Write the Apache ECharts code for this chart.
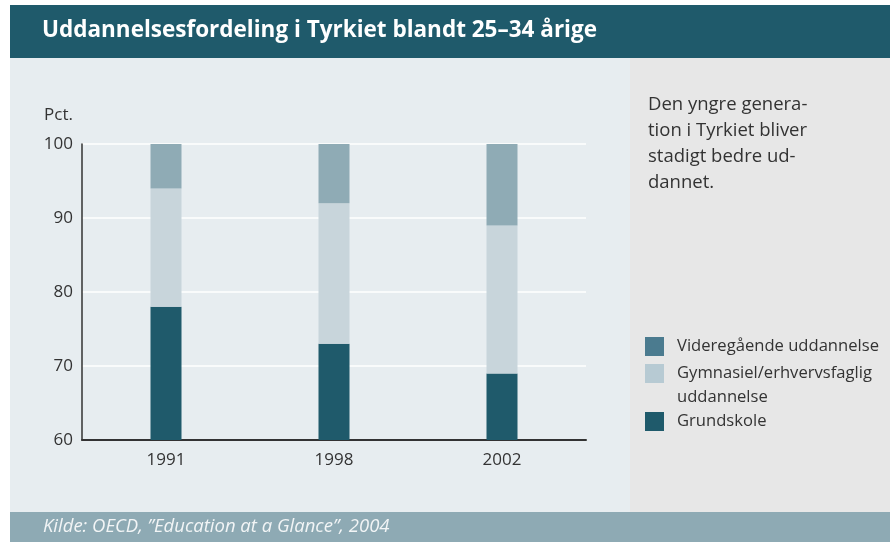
<!DOCTYPE html>
<html>
<head>
<meta charset="utf-8">
<script src="https://cdn.jsdelivr.net/npm/echarts@6/dist/echarts.min.js"></script>
<style>
html,body{margin:0;padding:0;background:#ffffff;}
#chart{width:890px;height:542px;}
</style>
</head>
<body>
<div id="chart"></div>
<script>
var categories = ['1991', '1998', '2002'];
var seriesNames = ['Grundskole', 'Gymnasiel/erhvervsfaglig uddannelse', 'Videregående uddannelse'];
var grundskole = [78, 73, 69];
var gymnasiel = [16, 19, 20];
var videregaaende = [6, 8, 11];
var yTicks = [60, 70, 80, 90, 100];
var titleText = 'Uddannelsesfordeling i Tyrkiet blandt 25–34 årige';
var noteLines = ['Den yngre genera-', 'tion i Tyrkiet bliver', 'stadigt bedre ud-', 'dannet.'];
var sourceText = 'Kilde: OECD, ”Education at a Glance”, 2004';
var legendLabels = ['Videregående uddannelse', 'Gymnasiel/erhvervsfaglig\nuddannelse', 'Grundskole'];

var barColors = ['#1f5a6b', '#c8d5db', '#8fabb5'];
var legendColors = ['#4b7b8f', '#b7cad3', '#1f5a6b'];
var FONT = '"Open Sans", sans-serif';

var chart = echarts.init(document.getElementById('chart'), null, {renderer: 'canvas'});

var graphics = [
  {type: 'rect', z: -10, shape: {x: 10, y: 5, width: 880, height: 53}, style: {fill: '#1f5a6b'}},
  {type: 'rect', z: -10, shape: {x: 10, y: 58, width: 620, height: 454}, style: {fill: '#e7edf0'}},
  {type: 'rect', z: -10, shape: {x: 630, y: 58, width: 260, height: 454}, style: {fill: '#e7e7e7'}},
  {type: 'rect', z: -10, shape: {x: 10, y: 512, width: 880, height: 30}, style: {fill: '#8eaab4'}},
  {type: 'text', x: 42, y: 31, style: {text: titleText, fill: '#ffffff', font: 'bold 22.5px ' + FONT, textVerticalAlign: 'middle'}},
  {type: 'text', x: 43, y: 527, style: {text: sourceText, fill: '#f2f5f6', font: 'italic 18.5px ' + FONT, textVerticalAlign: 'middle'}},
  {type: 'text', x: 648, y: 92, style: {text: noteLines.join('\n'), fill: '#333333', font: '18.5px ' + FONT, lineHeight: 26, textVerticalAlign: 'top'}}
];
var legendSwatchY = [337, 364, 412];
for (var i = 0; i < legendLabels.length; i++) {
  graphics.push({type: 'rect', shape: {x: 645, y: legendSwatchY[i], width: 19, height: 19}, style: {fill: legendColors[i]}});
  graphics.push({type: 'text', x: 677, y: legendSwatchY[i] - 2.5, style: {text: legendLabels[i], fill: '#333333', font: '16.6px ' + FONT, lineHeight: 24, textVerticalAlign: 'top'}});
}

var option = {
  animation: false,
  backgroundColor: 'transparent',
  graphic: graphics,
  grid: {left: 82, right: 304, top: 144, bottom: 102, containLabel: false},
  xAxis: {
    type: 'category',
    data: categories,
    axisLine: {show: true, lineStyle: {color: '#333333', width: 2}},
    axisTick: {show: false},
    axisLabel: {color: '#333333', fontSize: 17, fontFamily: FONT, margin: 12},
    splitLine: {show: false}
  },
  yAxis: {
    type: 'value',
    min: 60, max: 100, interval: 10,
    name: 'Pct.',
    nameLocation: 'end',
    nameGap: 20,
    nameTextStyle: {color: '#333333', fontSize: 17, fontFamily: FONT, align: 'right', verticalAlign: 'bottom', padding: [0, 9, 0, 0]},
    axisLine: {show: true, lineStyle: {color: '#333333', width: 1.5}},
    axisTick: {show: false},
    axisLabel: {color: '#333333', fontSize: 17, fontFamily: FONT, margin: 9,
      formatter: function (v) { return yTicks.indexOf(v) >= 0 ? String(v) : ''; }},
    splitLine: {show: true, lineStyle: {color: '#ffffff', width: 1.5}}
  },
  series: [
    {name: seriesNames[0], type: 'bar', stack: 'a', barWidth: 31, data: grundskole, itemStyle: {color: barColors[0]}, clip: true},
    {name: seriesNames[1], type: 'bar', stack: 'a', barWidth: 31, data: gymnasiel, itemStyle: {color: barColors[1]}, clip: true},
    {name: seriesNames[2], type: 'bar', stack: 'a', barWidth: 31, data: videregaaende, itemStyle: {color: barColors[2]}, clip: true}
  ]
};
chart.setOption(option);
</script>
</body>
</html>
